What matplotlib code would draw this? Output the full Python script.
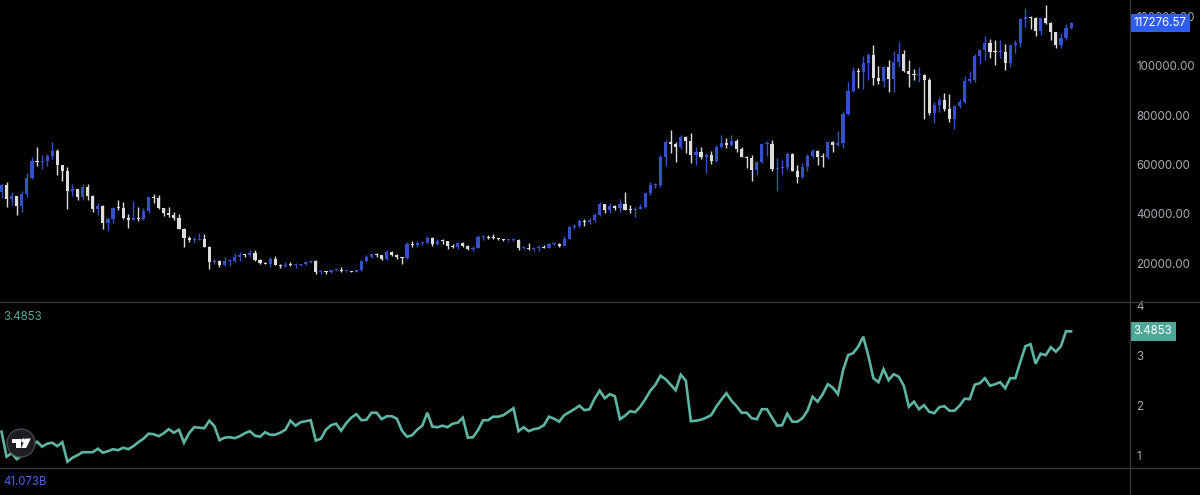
import matplotlib
matplotlib.use("Agg")
import matplotlib.pyplot as plt
from matplotlib.patches import Circle, Polygon, Rectangle
import numpy as np

plt.rcParams["font.family"] = ["Inter", "DejaVu Sans"]

# ---------------- data (weekly candles, prices in thousands USD) ----------------
opens_k = [
    48.9, 51.8, 46.0, 47.3, 43.2, 48.2, 54.7, 61.5, 60.9, 61.3,
    63.3, 65.5, 59.7, 57.3, 49.4, 50.1, 46.7, 50.8, 47.3, 41.9,
    43.1, 36.3, 37.9, 42.4, 42.2, 38.4, 37.7, 38.4, 37.8, 41.3,
    46.8, 46.4, 42.2, 40.4, 39.5, 38.5, 34.0, 30.1, 29.4, 29.4,
    29.9, 26.6, 20.5, 21.0, 19.3, 20.8, 20.8, 22.6, 23.3, 23.2,
    24.3, 21.5, 20.0, 19.8, 21.8, 19.4, 18.8, 19.3, 19.1, 19.2,
    19.6, 20.6, 20.9, 16.3, 16.7, 16.5, 17.1, 17.1, 16.7, 16.8,
    16.6, 17.1, 20.9, 22.7, 23.7, 23.3, 21.8, 24.6, 23.5, 22.4,
    22.1, 27.6, 27.5, 28.2, 28.3, 30.3, 27.6, 29.2, 28.9, 26.9,
    26.7, 28.1, 27.1, 25.9, 26.3, 30.5, 30.6, 30.3, 30.2, 29.9,
    29.3, 29.3, 29.4, 26.1, 26.1, 25.9, 26.2, 26.6, 26.3, 27.9,
    27.9, 27.1, 30.0, 34.5, 35.0, 37.1, 36.5, 37.4, 39.5, 43.8,
    41.4, 43.0, 42.3, 43.9, 41.7, 41.6, 42.0, 42.6, 48.3, 51.6,
    51.7, 63.1, 68.9, 68.4, 67.2, 71.3, 69.4, 63.9, 64.9, 63.1,
    64.0, 61.5, 66.9, 68.5, 67.8, 69.6, 66.2, 63.2, 62.7, 57.9,
    60.8, 68.2, 68.2, 58.1, 58.7, 58.9, 64.1, 57.3, 54.8, 59.1,
    63.6, 65.6, 63.0, 62.9, 69.0, 68.0, 68.7, 80.4, 89.9, 98.0,
    97.3, 101.2, 104.4, 95.2, 93.7, 99.4, 94.5, 101.3, 104.8, 97.7,
    96.5, 96.1, 96.3, 94.3, 80.7, 84.0, 86.1, 82.3, 78.4, 83.8,
    85.1, 94.0, 94.3, 104.1, 106.4, 109.0, 105.7, 105.6, 105.6, 100.9,
    108.4, 109.2, 119.1, 119.8, 119.4, 114.2, 119.3, 117.4, 113.5, 108.2,
    111.1, 115.3,
]
closes_k = [
    51.8, 46.0, 47.3, 43.2, 48.2, 54.7, 61.5, 60.9, 61.3, 63.3,
    65.5, 59.7, 57.3, 49.4, 50.1, 46.7, 50.8, 47.3, 41.9, 43.1,
    36.3, 37.9, 42.4, 42.2, 38.4, 37.7, 38.4, 37.8, 41.3, 46.8,
    46.4, 42.2, 40.4, 39.5, 38.5, 34.0, 30.1, 29.4, 29.4, 29.9,
    26.6, 20.5, 21.0, 19.3, 20.8, 20.8, 22.6, 23.3, 23.2, 24.3,
    21.5, 20.0, 19.8, 21.8, 19.4, 18.8, 19.3, 19.1, 19.2, 19.6,
    20.6, 20.9, 16.3, 16.7, 16.5, 17.1, 17.1, 16.7, 16.8, 16.6,
    17.1, 20.9, 22.7, 23.7, 23.3, 21.8, 24.6, 23.5, 22.4, 22.1,
    27.6, 27.5, 28.2, 28.3, 30.3, 27.6, 29.2, 28.9, 26.9, 26.7,
    28.1, 27.1, 25.9, 26.3, 30.5, 30.6, 30.3, 30.2, 29.9, 29.3,
    29.3, 29.4, 26.1, 26.1, 25.9, 26.2, 26.6, 26.3, 27.9, 27.9,
    27.1, 30.0, 34.5, 35.0, 37.1, 36.5, 37.4, 39.5, 43.8, 41.4,
    43.0, 42.3, 43.9, 41.7, 41.6, 42.0, 42.6, 48.3, 51.6, 51.7,
    63.1, 68.9, 68.4, 67.2, 71.3, 69.4, 63.9, 64.9, 63.1, 64.0,
    61.5, 66.9, 68.5, 67.8, 69.6, 66.2, 63.2, 62.7, 57.9, 60.8,
    68.2, 68.2, 58.1, 58.7, 58.9, 64.1, 57.3, 54.8, 59.1, 63.6,
    65.6, 63.0, 62.9, 69.0, 68.0, 68.7, 80.4, 89.9, 98.0, 97.3,
    101.2, 104.4, 95.2, 93.7, 99.4, 94.5, 101.3, 104.8, 97.7, 96.5,
    96.1, 96.3, 94.3, 80.7, 84.0, 86.1, 82.3, 78.4, 83.8, 85.1,
    94.0, 94.3, 104.1, 106.4, 109.0, 105.7, 105.6, 105.6, 100.9, 108.4,
    109.2, 119.1, 119.8, 119.4, 114.2, 119.3, 117.4, 113.5, 108.2, 111.1,
    115.3, 117.27657,
]
highs_k = [
    52.0, 52.9, 48.8, 47.3, 49.2, 56.5, 62.9, 67.0, 63.7, 64.3,
    69.0, 66.3, 59.9, 59.1, 51.9, 50.2, 51.9, 52.0, 47.5, 44.4,
    43.5, 38.9, 42.6, 45.8, 44.8, 40.0, 45.4, 42.6, 42.3, 47.0,
    48.2, 47.5, 42.4, 42.9, 40.8, 40.0, 34.2, 31.0, 30.6, 32.2,
    31.7, 26.8, 21.9, 21.5, 22.5, 21.6, 24.3, 24.6, 23.6, 25.2,
    25.2, 21.9, 20.6, 22.5, 22.8, 19.7, 20.3, 20.5, 19.9, 19.7,
    21.0, 21.0, 21.4, 17.2, 16.8, 17.4, 17.4, 18.4, 16.9, 16.9,
    17.2, 21.4, 23.3, 23.8, 24.2, 23.4, 25.2, 25.1, 23.9, 22.6,
    28.5, 28.9, 29.2, 28.8, 30.9, 30.5, 30.0, 29.8, 29.1, 27.6,
    28.4, 28.4, 27.3, 26.8, 31.4, 31.3, 31.5, 31.8, 30.3, 30.0,
    29.6, 30.2, 29.7, 26.8, 28.1, 26.4, 27.4, 27.5, 28.1, 28.6,
    28.0, 30.9, 35.2, 35.9, 37.9, 37.9, 38.4, 40.2, 44.7, 44.0,
    44.3, 43.6, 45.9, 49.0, 43.6, 42.8, 43.9, 48.6, 52.8, 52.4,
    64.0, 70.0, 73.8, 68.9, 71.8, 71.5, 72.8, 66.9, 67.2, 64.7,
    65.5, 67.7, 72.0, 70.6, 71.9, 70.2, 67.2, 63.4, 63.8, 61.4,
    68.4, 69.4, 70.1, 62.7, 61.8, 65.0, 64.5, 59.8, 60.6, 64.1,
    66.4, 66.0, 64.5, 69.5, 69.5, 73.6, 81.5, 93.5, 99.6, 98.9,
    104.0, 105.2, 108.3, 99.9, 99.9, 102.5, 106.0, 109.6, 106.4, 102.5,
    98.8, 99.5, 96.5, 95.0, 85.3, 87.4, 88.8, 88.5, 83.9, 86.4,
    95.8, 97.9, 104.9, 106.6, 111.9, 110.7, 110.4, 110.5, 108.9, 108.5,
    110.6, 119.5, 123.2, 120.2, 119.8, 119.5, 124.5, 117.6, 113.6, 113.4,
    116.8, 117.5,
]
lows_k = [
    46.5, 42.8, 43.4, 39.6, 40.7, 46.9, 54.0, 59.5, 58.0, 59.4,
    62.3, 55.6, 53.3, 42.0, 47.1, 45.5, 45.6, 45.7, 40.6, 39.7,
    34.0, 32.9, 36.3, 41.7, 37.9, 34.3, 37.5, 37.2, 37.6, 40.5,
    44.2, 42.1, 39.2, 38.6, 37.7, 33.7, 26.7, 28.7, 28.0, 29.3,
    26.4, 17.6, 19.6, 18.6, 19.0, 19.0, 20.7, 20.8, 22.4, 22.7,
    20.8, 19.6, 19.5, 18.5, 19.3, 18.1, 18.5, 19.0, 18.2, 18.9,
    19.2, 20.1, 15.6, 15.8, 15.5, 16.0, 16.8, 16.3, 16.4, 16.3,
    16.5, 17.0, 20.4, 22.3, 22.5, 21.5, 21.4, 22.8, 21.9, 19.6,
    21.9, 26.6, 26.5, 27.2, 28.1, 27.1, 27.2, 27.7, 25.8, 26.2,
    25.9, 26.6, 25.4, 24.8, 26.2, 29.6, 29.7, 30.0, 29.5, 29.0,
    28.7, 29.0, 25.2, 25.8, 25.4, 24.9, 25.0, 26.0, 26.0, 27.2,
    26.5, 26.9, 29.9, 33.9, 34.5, 34.9, 35.7, 36.8, 39.2, 40.2,
    40.5, 41.5, 40.8, 41.5, 40.3, 38.6, 41.8, 42.3, 47.7, 50.6,
    50.9, 59.2, 64.5, 60.8, 66.4, 64.5, 60.7, 59.6, 62.4, 56.6,
    60.2, 60.8, 66.6, 66.6, 67.6, 65.1, 63.0, 58.4, 53.5, 55.7,
    60.6, 63.4, 57.3, 49.1, 56.1, 57.8, 57.2, 52.6, 54.6, 57.5,
    62.7, 59.8, 58.9, 62.4, 65.1, 67.6, 66.8, 80.2, 89.4, 90.8,
    90.5, 94.2, 92.2, 92.5, 91.5, 89.3, 89.5, 99.5, 97.5, 91.2,
    94.1, 93.4, 78.3, 80.1, 76.6, 81.1, 81.6, 77.2, 74.4, 83.0,
    84.7, 92.8, 93.4, 100.7, 102.1, 103.1, 100.4, 103.0, 98.2, 99.6,
    105.1, 107.5, 115.7, 114.7, 112.0, 112.6, 116.8, 110.6, 107.3, 107.3,
    110.6, 114.8,
]
ratio = [
    1.48, 0.98, 1.05, 0.93, 1.00, 1.10, 1.20, 1.28, 1.18, 1.24,
    1.26, 1.19, 1.27, 0.88, 0.96, 1.01, 1.07, 1.07, 1.07, 1.14,
    1.06, 1.09, 1.13, 1.11, 1.16, 1.13, 1.19, 1.27, 1.34, 1.44,
    1.43, 1.39, 1.45, 1.53, 1.46, 1.52, 1.26, 1.45, 1.57, 1.56,
    1.55, 1.70, 1.59, 1.31, 1.36, 1.37, 1.35, 1.39, 1.45, 1.49,
    1.40, 1.38, 1.47, 1.42, 1.42, 1.46, 1.52, 1.70, 1.60, 1.67,
    1.69, 1.71, 1.30, 1.34, 1.52, 1.61, 1.64, 1.50, 1.65, 1.76,
    1.83, 1.71, 1.72, 1.86, 1.86, 1.73, 1.79, 1.79, 1.74, 1.50,
    1.38, 1.41, 1.52, 1.60, 1.86, 1.58, 1.57, 1.60, 1.57, 1.64,
    1.66, 1.76, 1.36, 1.37, 1.51, 1.71, 1.71, 1.78, 1.78, 1.81,
    1.88, 1.95, 1.49, 1.57, 1.49, 1.53, 1.55, 1.61, 1.78, 1.74,
    1.68, 1.81, 1.87, 1.93, 2.00, 1.91, 1.93, 2.14, 2.30, 2.15,
    2.23, 2.19, 1.73, 1.80, 1.89, 1.87, 1.98, 2.13, 2.30, 2.42,
    2.60, 2.53, 2.42, 2.31, 2.62, 2.50, 1.69, 1.70, 1.72, 1.76,
    1.81, 1.98, 2.12, 2.25, 2.10, 1.99, 1.86, 1.86, 1.75, 1.73,
    1.93, 1.93, 1.76, 1.60, 1.61, 1.84, 1.68, 1.68, 1.75, 1.90,
    2.18, 2.08, 2.23, 2.43, 2.36, 2.23, 2.70, 3.01, 3.05, 3.18,
    3.38, 3.00, 2.55, 2.47, 2.73, 2.51, 2.63, 2.58, 2.40, 1.98,
    2.08, 1.93, 2.01, 1.88, 1.85, 1.97, 1.99, 1.90, 1.90, 2.00,
    2.14, 2.13, 2.42, 2.45, 2.55, 2.40, 2.43, 2.47, 2.35, 2.55,
    2.55, 2.88, 3.19, 3.23, 2.84, 3.04, 3.01, 3.17, 3.08, 3.19,
    3.49, 3.4853,
]
price_ticks = [20000, 40000, 60000, 80000, 100000, 120000]
ratio_ticks = [1, 2, 3, 4]
last_price = 117276.57
last_ratio = 3.4853
volume_label = "41.073B"

# ---------------- styling ----------------
BG = "black"
UP = "#3550cf"
DOWN = "#dcdcdc"
TEAL = "#5fb5a3"
TEAL_BOX = "#4ea898"
BLUE_BOX = "#2f5ef0"
TICK = "#a9abb2"
SEP = "#3a3a3a"

W, H = 1200, 495
fig = plt.figure(figsize=(W / 100, H / 100), dpi=100, facecolor=BG)


def rect(x0, y0, x1, y1):
    return [x0 / W, 1 - y1 / H, (x1 - x0) / W, (y1 - y0) / H]


axp = fig.add_axes(rect(0, 0, 1129, 302))
axr = fig.add_axes(rect(0, 302, 1129, 468))

n = len(closes_k)
idx = np.arange(n)
o = np.array(opens_k) * 1000
c = np.array(closes_k) * 1000
h = np.array(highs_k) * 1000
lo = np.array(lows_k) * 1000
up = c >= o
cols = np.where(up, UP, DOWN)

xlim = (-0.3, -0.3 + 1129 / 5.069)
for ax in (axp, axr):
    ax.set_facecolor(BG)
    for s in ax.spines.values():
        s.set_visible(False)
    ax.set_xlim(*xlim)
    ax.set_xticks([])
    ax.tick_params(axis="y", which="both", length=0, pad=5, labelsize=8.3,
                   labelcolor=TICK, left=False, labelleft=False,
                   right=True, labelright=True)

# candles
axp.vlines(idx, lo, h, colors=cols, lw=1.0)
body_bottom = np.minimum(o, c)
body_h = np.maximum(np.abs(c - o), 450)
axp.bar(idx, body_h, bottom=body_bottom, width=0.62, color=cols, lw=0)
axp.set_ylim(4300, 126600)
axp.set_yticks(price_ticks)
axp.set_yticklabels([f"{t:.2f}" for t in price_ticks])
axp.annotate(f"{last_price:.2f}", xy=(1, last_price),
             xycoords=("axes fraction", "data"), xytext=(3.2, 0),
             textcoords="offset points", ha="left", va="center",
             color="white", fontsize=8.3, annotation_clip=False,
             bbox=dict(boxstyle="square,pad=0.3", fc=BLUE_BOX, ec="none"))

# ratio line
axr.plot(idx, ratio, color=TEAL, lw=1.9, solid_joinstyle="miter")
axr.set_ylim(0.754, 4.074)
axr.set_yticks(ratio_ticks)
axr.set_yticklabels([str(t) for t in ratio_ticks])
axr.annotate(f"{last_ratio:.4f}", xy=(1, last_ratio),
             xycoords=("axes fraction", "data"), xytext=(3.2, 0),
             textcoords="offset points", ha="left", va="center",
             color="white", fontsize=8.3, annotation_clip=False,
             bbox=dict(boxstyle="square,pad=0.3", fc=TEAL_BOX, ec="none"))

# overlay for separators, labels, logo
ov = fig.add_axes([0, 0, 1, 1], facecolor="none")
ov.set_xlim(0, W)
ov.set_ylim(H, 0)
ov.axis("off")
ov.plot([0, W], [302, 302], color=SEP, lw=0.9)
ov.plot([0, W], [468, 468], color=SEP, lw=0.9)
ov.plot([1129.5, 1129.5], [0, H], color=SEP, lw=0.9)

ov.text(3, 317, f"{last_ratio:.4f}", color=TEAL_BOX, fontsize=8.3,
        ha="left", va="center")
ov.text(3, 482, volume_label, color="#4a60e6", fontsize=8.3,
        ha="left", va="center")

# TradingView-like logo
ov.add_patch(Circle((21, 443), 14, fc="#1d1e24", ec="#45464c", lw=1.0, zorder=5))
ov.add_patch(Polygon([(11.5, 438.5), (20.5, 438.5), (20.5, 448), (16.2, 448),
                      (16.2, 442.5), (11.5, 442.5)], closed=True,
                     fc="white", ec="none", zorder=6))
ov.add_patch(Circle((23.2, 440.5), 2.0, fc="white", ec="none", zorder=6))
ov.add_patch(Polygon([(25.5, 438.5), (30.8, 438.5), (26.2, 448), (21.2, 448)],
                     closed=True, fc="white", ec="none", zorder=6))

fig.savefig("out.png", dpi=100, facecolor=BG)
